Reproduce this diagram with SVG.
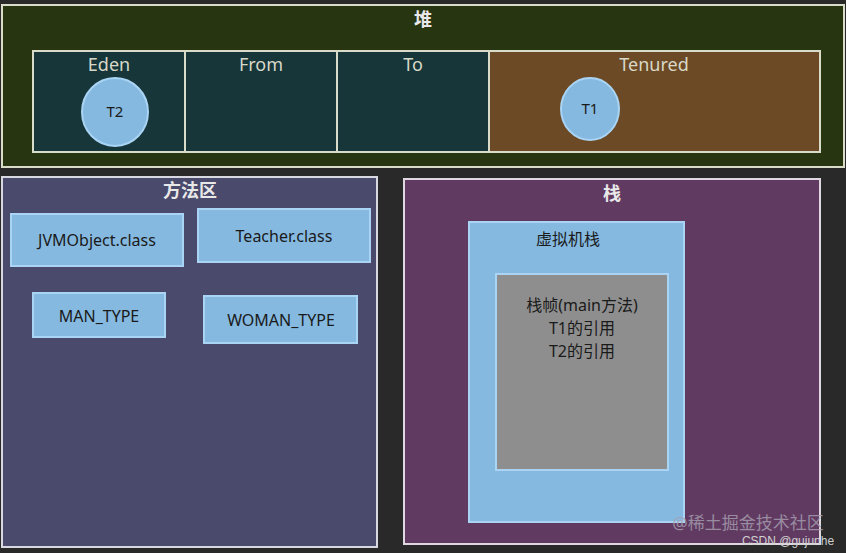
<svg xmlns="http://www.w3.org/2000/svg" width="846" height="553" viewBox="0 0 846 553">
<style>
text{font-family:"Noto Sans","Noto Sans CJK SC",sans-serif}
.t{fill:#d8d8c8;font-size:18px;text-anchor:middle}
.h{fill:#e8e8e8;font-size:18px;font-weight:bold;text-anchor:middle}
.b{fill:#1a1a1a;font-size:16px;text-anchor:middle}
.box{fill:#85b9e0;stroke:#a9d4f4;stroke-width:2}
</style>
<rect width="846" height="553" fill="#292929"/>
<g id="heap">
<rect x="2" y="5" width="842" height="162" fill="#283511" stroke="#d8dcc8" stroke-width="2"/>
<text class="h" x="423" y="26">堆</text>
</g>
<g id="eden"><rect x="33" y="51" width="152" height="101" fill="#163639" stroke="#d8dcc8" stroke-width="2"/><text class="t" x="109" y="71">Eden</text></g>
<g id="from"><rect x="185" y="51" width="152" height="101" fill="#163639" stroke="#d8dcc8" stroke-width="2"/><text class="t" x="261" y="71">From</text></g>
<g id="to"><rect x="337" y="51" width="152" height="101" fill="#163639" stroke="#d8dcc8" stroke-width="2"/><text class="t" x="413" y="71">To</text></g>
<g id="tenured"><rect x="489" y="51" width="331" height="101" fill="#6c4a25" stroke="#d8dcc8" stroke-width="2"/><text class="t" x="654" y="71">Tenured</text></g>
<g id="T2"><ellipse cx="115" cy="112" rx="33" ry="34" class="box"/><text class="b" x="115" y="117" style="font-size:15px">T2</text></g>
<g id="T1"><ellipse cx="590" cy="109" rx="29" ry="31" class="box"/><text class="b" x="590" y="114" style="font-size:15px">T1</text></g>
<g id="method">
<rect x="2" y="177" width="375" height="370" fill="#4a4a6c" stroke="#d8d8e0" stroke-width="2"/>
<text class="h" x="190" y="197">方法区</text>
</g>
<g id="jvm"><rect x="11" y="214" width="172" height="52" class="box"/><text class="b" x="97" y="246">JVMObject.class</text></g>
<g id="teacher"><rect x="198" y="209" width="172" height="53" class="box"/><text class="b" x="284" y="242">Teacher.class</text></g>
<g id="man"><rect x="33" y="293" width="132" height="44" class="box"/><text class="b" x="99" y="322">MAN_TYPE</text></g>
<g id="woman"><rect x="204" y="296" width="153" height="47" class="box"/><text class="b" x="281" y="326">WOMAN_TYPE</text></g>
<g id="stack">
<rect x="404" y="179" width="416" height="365" fill="#613a62" stroke="#e0d8e0" stroke-width="2"/>
<text class="h" x="612" y="200">栈</text>
</g>
<g id="vmstack"><rect x="469" y="222" width="215" height="300" class="box"/><text class="b" x="568" y="245">虚拟机栈</text></g>
<g id="frame"><rect x="496" y="274" width="172" height="196" fill="#8e8e8e" stroke="#a9d4f4" stroke-width="2"/>
<text class="b" x="582" y="311">栈帧(main方法)</text>
<text class="b" x="582" y="334">T1的引用</text>
<text class="b" x="582" y="357">T2的引用</text></g>
<g id="connectors"/>
<text x="748" y="529" fill="#a8a0b0" font-size="17" text-anchor="middle" opacity="0.8">@稀土掘金技术社区</text>
<text x="788" y="545" fill="#d0d0d0" font-size="12" text-anchor="middle" style="font-family:'Liberation Sans',sans-serif">CSDN @gujunhe</text>
</svg>
